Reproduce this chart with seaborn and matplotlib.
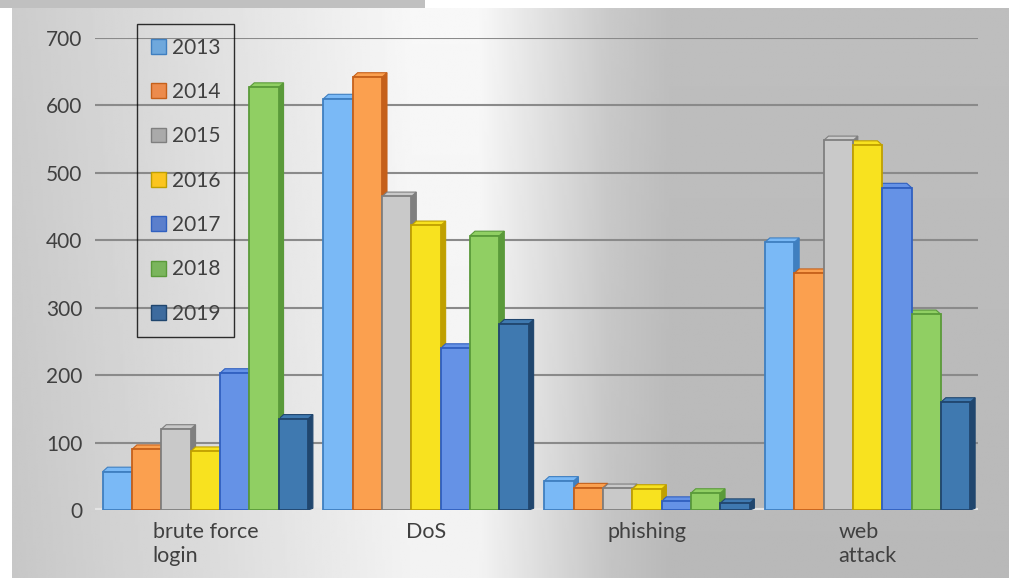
import numpy as np
import pandas as pd
import matplotlib.pyplot as plt
import seaborn as sns
from matplotlib.patches import Polygon

# Data
categories = ["brute force\nlogin", "DoS", "phishing", "web\nattack"]
years = ["2013", "2014", "2015", "2016", "2017", "2018", "2019"]
v2013 = [57, 610, 43, 397]
v2014 = [90, 642, 33, 351]
v2015 = [120, 465, 32, 548]
v2016 = [87, 422, 31, 541]
v2017 = [203, 240, 13, 478]
v2018 = [627, 407, 25, 290]
v2019 = [135, 276, 10, 160]
series = [v2013, v2014, v2015, v2016, v2017, v2018, v2019]

colors = ["#7ab9f6", "#fba04f", "#c9c9c9", "#f8e21f", "#6592e6", "#90cf63", "#3f79b0"]
edges = ["#3f7fc0", "#c5601a", "#7f7f7f", "#c0a000", "#3060c0", "#5a9a3a", "#20466e"]
legend_colors = ["#6fa8dc", "#ec8b4c", "#aaaaaa", "#fbc51f", "#5b7fcc", "#7ab55c", "#3d6b9e"]

rows = []
for year, vals in zip(years, series):
    for cat, v in zip(categories, vals):
        rows.append({"category": cat, "year": year, "count": v})
df = pd.DataFrame(rows)

sns.set_style("white")
plt.rcParams["font.family"] = ["Lato", "DejaVu Sans"]

fig = plt.figure(figsize=(10.09, 5.78), dpi=100)

# background gradient (light at left-centre, grey on the right)
bg = fig.add_axes([12 / 1009, 0, 1 - 12 / 1009, 1 - 8 / 578], zorder=-10)
xs = np.linspace(0, 1, 400)
prof = np.interp(xs, [0, 0.2, 0.40, 0.47, 0.60, 0.66, 1],
                 [0.80, 0.88, 0.97, 0.97, 0.79, 0.745, 0.745])
ys = np.linspace(0, 1, 200)
img = np.clip(prof[None, :] - 0.02 * ys[:, None], 0, 1)
bg.imshow(img, cmap="gray", vmin=0, vmax=1, aspect="auto", extent=[0, 1, 0, 1])
bg.axis("off")
top = fig.add_axes([0, 1 - 8 / 578, 425 / 1009, 8 / 578], zorder=-10)
top.set_facecolor("#c0c0c0")
top.set_xticks([])
top.set_yticks([])
for s in top.spines.values():
    s.set_visible(False)

ax = fig.add_axes([95 / 1009, 1 - 510 / 578, 883 / 1009, 472 / 578])
ax.patch.set_alpha(0)

sns.barplot(data=df, x="category", y="count", hue="year", palette=colors,
            width=0.93, gap=0, ax=ax, saturation=1, zorder=3)

ax.set_ylim(0, 700)
ax.set_xlim(-0.5, 3.5)

# edge colours per series plus a small fake 3D side/top face
dx, dy = 0.022, 6.5
for cont, fc, ec in zip(ax.containers, colors, edges):
    for p in cont:
        p.set_edgecolor(ec)
        p.set_linewidth(1.3)
        x0, w, h = p.get_x(), p.get_width(), p.get_height()
        if x0 + w / 2 < 3.0 or x0 > 3.3:
            side = [(x0 + w, 0), (x0 + w + dx, dy * 0.4), (x0 + w + dx, h + dy), (x0 + w, h)]
            topf = [(x0, h), (x0 + w, h), (x0 + w + dx, h + dy), (x0 + dx, h + dy)]
        else:
            side = [(x0, 0), (x0 - dx, dy * 0.4), (x0 - dx, h + dy), (x0, h)]
            topf = [(x0, h), (x0 + w, h), (x0 + w - dx, h + dy), (x0 - dx, h + dy)]
        ax.add_patch(Polygon(side, closed=True, facecolor=ec, edgecolor=ec, lw=0.8, zorder=2.9))
        ax.add_patch(Polygon(topf, closed=True, facecolor=fc, edgecolor=ec, lw=0.8, zorder=2.9))

ax.set_yticks(range(0, 701, 100))
ax.yaxis.grid(True, color="#8a8a8a", linewidth=1.5, zorder=0)
ax.set_axisbelow(True)
ax.axhline(0, color="#e4e4e4", linewidth=3, zorder=2)
for s in ax.spines.values():
    s.set_visible(False)
ax.set_xlabel("")
ax.set_ylabel("")
ax.tick_params(axis="y", length=0, pad=9, labelsize=15, labelcolor="#404040")
ax.tick_params(axis="x", length=0, pad=9, labelsize=15.5, labelcolor="#404040")
for lbl in ax.get_xticklabels():
    lbl.set_multialignment("left")

ax.legend_.remove()
handles = [plt.Rectangle((0, 0), 1, 1, facecolor=c, edgecolor=e) for c, e in zip(legend_colors, edges)]
leg = fig.legend(handles, years, loc="upper left", bbox_to_anchor=(137 / 1009, 1 - 24 / 578),
                 bbox_transform=fig.transFigure, borderaxespad=0, frameon=True, fancybox=False,
                 fontsize=15, labelspacing=1.17, handlelength=0.72, handleheight=0.72,
                 handletextpad=0.3, borderpad=0.65)
leg.get_frame().set_edgecolor("black")
leg.get_frame().set_facecolor("none")
leg.get_frame().set_linewidth(1)
for t in leg.get_texts():
    t.set_color("#404040")

plt.savefig("out.png", dpi=100)
